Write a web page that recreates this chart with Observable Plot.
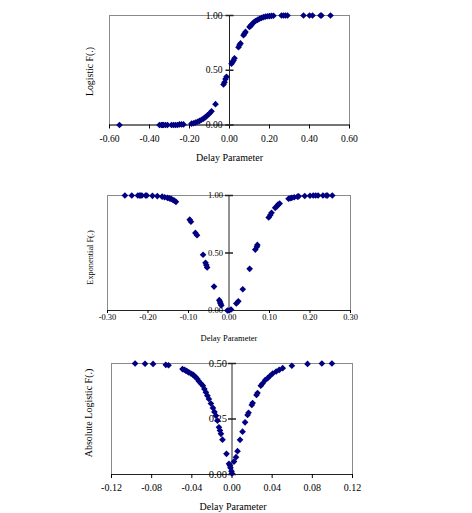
<!DOCTYPE html>
<html>
<head>
<meta charset="utf-8">
<script src="https://cdn.jsdelivr.net/npm/d3@7"></script>
<script src="https://cdn.jsdelivr.net/npm/@observablehq/plot@0.6"></script>
<style>
  html, body { margin: 0; padding: 0; background: #fff; }
  #charts { position: relative; width: 472px; height: 513px; background: #fff; }
  #charts > div { position: absolute; left: 0; }
  svg { font-family: "Times New Roman", "Liberation Serif", serif; overflow: visible; }
</style>
</head>
<body>
<div id="charts"></div>
<script>
// Logistic transition function F(.) against the delay parameter
const logisticX = [-0.55, -0.35, -0.34, -0.335, -0.33, -0.32, -0.31, -0.29, -0.28, -0.27, -0.26, -0.25, -0.24, -0.23,
  -0.19, -0.18, -0.17, -0.16, -0.15, -0.14, -0.13, -0.12, -0.11, -0.10, -0.09, -0.07,
  -0.03, -0.025, -0.02, -0.015, 0.01, 0.015, 0.02, 0.025, 0.045, 0.05, 0.055, 0.07, 0.075, 0.08,
  0.10, 0.105, 0.11, 0.12, 0.13, 0.14, 0.15, 0.16, 0.17, 0.18, 0.19, 0.20, 0.21, 0.22,
  0.26, 0.27, 0.28, 0.29, 0.37, 0.40, 0.415, 0.455, 0.46, 0.505];
const logisticY = [0.000, 0.000, 0.000, 0.000, 0.000, 0.000, 0.000, 0.000, 0.000, 0.000, 0.000, 0.005, 0.005, 0.005,
  0.012, 0.016, 0.022, 0.030, 0.037, 0.048, 0.058, 0.072, 0.088, 0.105, 0.125, 0.190,
  0.370, 0.390, 0.420, 0.440, 0.560, 0.575, 0.590, 0.610, 0.710, 0.730, 0.745, 0.820, 0.835, 0.850,
  0.895, 0.905, 0.915, 0.935, 0.950, 0.960, 0.970, 0.978, 0.985, 0.990, 0.993, 0.995, 0.997, 0.998,
  1.000, 1.000, 1.000, 1.000, 1.000, 1.000, 1.000, 1.000, 1.000, 1.000];

// Exponential transition function
const exponentialX = [-0.257, -0.240, -0.225, -0.221, -0.218, -0.215, -0.206, -0.203, -0.189, -0.177, -0.165, -0.159,
  -0.152, -0.147, -0.143, -0.139, -0.135, -0.131, -0.097, -0.094, -0.083, -0.079, -0.064, -0.058, -0.056, -0.054,
  -0.037, -0.024, -0.022, -0.021, -0.019, -0.004, 0.000, 0.005, 0.018, 0.023, 0.034, 0.051, 0.065, 0.069, 0.070,
  0.098, 0.102, 0.105, 0.114, 0.118, 0.121, 0.125, 0.147, 0.151, 0.155, 0.161, 0.169, 0.172, 0.187,
  0.200, 0.208, 0.214, 0.220, 0.232, 0.240, 0.243, 0.255];
const exponentialY = [1.000, 1.000, 1.000, 1.000, 1.000, 1.000, 1.000, 1.000, 0.997, 0.995, 0.990, 0.985,
  0.980, 0.975, 0.970, 0.963, 0.955, 0.945, 0.790, 0.772, 0.675, 0.655, 0.485, 0.415, 0.395, 0.375,
  0.208, 0.090, 0.075, 0.060, 0.045, 0.000, 0.000, 0.009, 0.061, 0.080, 0.185, 0.362, 0.530, 0.555, 0.570,
  0.809, 0.830, 0.850, 0.893, 0.905, 0.922, 0.930, 0.972, 0.976, 0.980, 0.985, 0.990, 0.993, 0.996,
  0.998, 1.000, 1.000, 1.000, 1.000, 1.000, 1.000, 1.000];

// Absolute logistic transition function
const absLogisticX = [-0.0965, -0.0866, -0.0786, -0.0659, -0.0632, -0.0493, -0.0475, -0.046, -0.0445, -0.043,
  -0.041, -0.039, -0.0375, -0.036, -0.0345, -0.033, -0.031, -0.029, -0.0275, -0.026, -0.0245, -0.023, -0.021,
  -0.019, -0.0175, -0.016, -0.0145, -0.013, -0.012, -0.011, -0.0095, -0.0055, -0.003, -0.002, -0.0015, -0.0005, 0.000,
  0.002, 0.004, 0.0055, 0.008, 0.0105, 0.013, 0.0155, 0.0165, 0.0197, 0.0205, 0.0244, 0.0254, 0.0287, 0.0304,
  0.033, 0.0355, 0.038, 0.0405, 0.044, 0.047, 0.0505, 0.0596, 0.0752, 0.0895, 0.0995];
const absLogisticY = [0.500, 0.499, 0.498, 0.494, 0.492, 0.475, 0.472, 0.468, 0.464, 0.460,
  0.455, 0.450, 0.444, 0.438, 0.430, 0.420, 0.410, 0.400, 0.385, 0.370, 0.355, 0.340, 0.320,
  0.300, 0.282, 0.265, 0.243, 0.213, 0.198, 0.183, 0.157, 0.093, 0.048, 0.040, 0.030, 0.015, 0.005,
  0.058, 0.078, 0.105, 0.156, 0.193, 0.235, 0.268, 0.278, 0.313, 0.322, 0.358, 0.367, 0.400, 0.410,
  0.425, 0.434, 0.445, 0.455, 0.464, 0.471, 0.479, 0.490, 0.498, 0.500, 0.500];

// Axis ticks
const logisticXTicks = [-0.60, -0.40, -0.20, 0.00, 0.20, 0.40, 0.60];
const logisticYTicks = [0.00, 0.50, 1.00];
const exponentialXTicks = [-0.30, -0.20, -0.10, 0.00, 0.10, 0.20, 0.30];
const exponentialYTicks = [0.00, 0.50, 1.00];
const absLogisticXTicks = [-0.12, -0.08, -0.04, 0.00, 0.04, 0.08, 0.12];
const absLogisticYTicks = [0.00, 0.25, 0.50];

const xTitle = "Delay Parameter";
const fmt = d => d.toFixed(2);
const markerColor = "#000080";
const inkColor = "#000";

// short horizontal tick crossing the vertical axis
const crossTick = { draw(ctx) { ctx.moveTo(-4, 0); ctx.lineTo(4, 0); } };

function panel(o) {
  const points = o.xs.map((x, i) => ({x, y: o.ys[i]}));
  const yTickRows = o.yTicks.map(v => ({x: 0, y: v}));
  const chart = Plot.plot({
    width: 472,
    height: o.height,
    marginLeft: o.ml, marginRight: o.mr, marginTop: o.mt, marginBottom: o.mb,
    style: {background: "white", fontFamily: '"Times New Roman", "Liberation Serif", serif', color: inkColor},
    x: {domain: o.xDomain, axis: null},
    y: {domain: o.yDomain, axis: null},
    marks: [
      Plot.frame({stroke: "#8a8a8a"}),
      Plot.ruleY([o.yDomain[0]], {stroke: "#222"}),
      Plot.ruleX([0], {stroke: "#222"}),
      Plot.axisX(o.xTicks, {
        tickSize: o.tickSize, tickPadding: o.tickPadding, tickFormat: fmt,
        fontSize: o.xTickFont, label: null
      }),
      Plot.dot(yTickRows, {x: "x", y: "y", symbol: crossTick, r: 4, fill: "none", stroke: "#222"}),
      Plot.text(yTickRows, {x: "x", y: "y", text: d => fmt(d.y), textAnchor: "end", dx: -o.yGap, fontSize: o.yTickFont}),
      Plot.dot(points, {x: "x", y: "y", symbol: "diamond2", r: o.r, fill: markerColor}),
      Plot.text([xTitle], {frameAnchor: "bottom", textAnchor: "middle", lineAnchor: "middle",
        dy: o.xTitleDy, dx: o.xTitleDx, fontSize: o.titleFont}),
      Plot.text([o.yLabel], {frameAnchor: "left", textAnchor: "middle", lineAnchor: "middle",
        dx: o.yLabelDx, dy: o.yLabelDy, rotate: -90, fontSize: o.yLabelFont})
    ]
  });
  const wrap = document.createElement("div");
  wrap.style.top = o.top + "px";
  wrap.appendChild(chart);
  document.getElementById("charts").appendChild(wrap);
}

panel({
  top: 0, height: 172, ml: 109, mr: 123, mt: 15, mb: 47.5,
  xDomain: [-0.6, 0.6], yDomain: [0, 1], xTicks: logisticXTicks, yTicks: logisticYTicks,
  xs: logisticX, ys: logisticY, r: 3,
  tickSize: 4, tickPadding: 6, xTickFont: 9.6, yTickFont: 9.6, yGap: 7,
  titleFont: 10, xTitleDy: 33, xTitleDx: 0,
  yLabel: "Logistic F(.)", yLabelFont: 9.8, yLabelDx: -19.3, yLabelDy: 1.3
});

panel({
  top: 172, height: 172, ml: 107, mr: 122, mt: 23, mb: 34,
  xDomain: [-0.3, 0.3], yDomain: [0, 1], xTicks: exponentialXTicks, yTicks: exponentialYTicks,
  xs: exponentialX, ys: exponentialY, r: 3,
  tickSize: 3, tickPadding: 1, xTickFont: 8.4, yTickFont: 8.6, yGap: 6,
  titleFont: 8.5, xTitleDy: 28, xTitleDx: 0,
  yLabel: "Exponential F(.)", yLabelFont: 8.3, yLabelDx: -17.4, yLabelDy: 4.5
});

panel({
  top: 344, height: 169, ml: 111, mr: 120, mt: 19, mb: 39,
  xDomain: [-0.12, 0.12], yDomain: [0, 0.5], xTicks: absLogisticXTicks, yTicks: absLogisticYTicks,
  xs: absLogisticX, ys: absLogisticY, r: 3,
  tickSize: 4, tickPadding: 5.5, xTickFont: 10, yTickFont: 10.5, yGap: 5,
  titleFont: 10, xTitleDy: 32, xTitleDx: 1,
  yLabel: "Absolute Logistic F(.)", yLabelFont: 10, yLabelDx: -22.4, yLabelDy: -6
});
</script>
</body>
</html>
